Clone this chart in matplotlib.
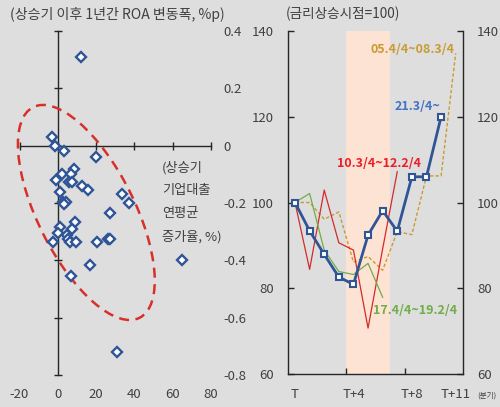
"""
Scatter of loan growth vs ROA change, and ROA paths around rate-hike cycles.
"""

import numpy as np
import matplotlib
matplotlib.use('Agg')
import matplotlib.pyplot as plt
from matplotlib.patches import Ellipse
from matplotlib import transforms

plt.rcParams['font.family'] = ['Noto Sans CJK KR', 'DejaVu Sans']
plt.rcParams['axes.unicode_minus'] = False

# left panel: 기업대출 연평균 증가율 (x) vs ROA 변동폭 (y)
loan_growth = [12.0, -3.0, -1.6, 3.3, 20.2, 8.2, 2.2, 6.8, -0.7, 6.1, 7.3, 12.7,
               15.7, 1.2, 33.6, 37.2, 2.8, 4.5, 3.3, 27.3, 9.2, 1.0, 7.3, 0.3,
               5.0, -2.6, 5.4, 6.3, 9.4, 20.4, 26.0, 27.5, 16.9, 64.6, 7.0, 30.8]
roa_change = [0.31, 0.03, 0.0, -0.02, -0.04, -0.08, -0.10, -0.10, -0.12, -0.125,
              -0.125, -0.14, -0.155, -0.16, -0.17, -0.20, -0.195, -0.195, -0.205,
              -0.235, -0.265, -0.285, -0.29, -0.305, -0.31, -0.335, -0.325,
              -0.335, -0.335, -0.335, -0.325, -0.325, -0.415, -0.40, -0.455, -0.72]

scatter_xticks = [-20, 0, 20, 40, 60, 80]
scatter_yticks = [0.4, 0.2, 0, -0.2, -0.4, -0.6, -0.8]
scatter_ylabels = ['0.4', '0.2', '0', '-0.2', '-0.4', '-0.6', '-0.8']

# right panel: index (rate hike start = 100) by quarter
series_0508 = [100, 100, 96.1, 97.8, 86.1, 87.4, 84.2, 93.2, 92.5, 106.2, 106.2, 134.8]
series_1012 = [100, 84.4, 102.9, 90.6, 88.9, 70.7, 89.2, 107.2]
series_1719 = [100, 102.1, 88.9, 83.9, 83.2, 85.8, 77.9]
series_21 = [100, 93.4, 87.9, 82.6, 80.9, 92.4, 98.1, 93.3, 106.0, 106.0, 120.0]

quarter_ticks = [0, 4, 8, 11]
quarter_labels = ['T', 'T+4', 'T+8', 'T+11']
index_ticks = [60, 80, 100, 120, 140]

BG = '#dedede'
TXT = '#404040'
AXC = '#262626'

fig = plt.figure(figsize=(5.0, 4.07), dpi=100, facecolor=BG)

# ---------------- left panel ----------------
ax = fig.add_axes([0.039, 0.0786, 0.383, 0.8452], facecolor=BG)
ax.set_xlim(-20, 80)
ax.set_ylim(-0.8, 0.4)
for side in ['top', 'right']:
    ax.spines[side].set_visible(False)
ax.spines['left'].set_position(('data', 0))
ax.spines['bottom'].set_position(('data', 0))
for side in ['left', 'bottom']:
    ax.spines[side].set_color(AXC)
    ax.spines[side].set_linewidth(1.0)
ax.set_xticks(scatter_xticks)
ax.set_yticks(scatter_yticks)
ax.tick_params(direction='inout', length=6, width=1.0, color=AXC,
               labelleft=False, labelbottom=False)

sec_x = ax.secondary_xaxis('bottom')
sec_x.set_xticks(scatter_xticks)
sec_x.spines['bottom'].set_visible(False)
sec_x.tick_params(length=0, pad=9, labelsize=9.5, labelcolor=TXT)

sec_y = ax.secondary_yaxis('right')
sec_y.set_yticks(scatter_yticks, scatter_ylabels)
sec_y.spines['right'].set_visible(False)
sec_y.tick_params(length=0, pad=9, labelsize=9.5, labelcolor=TXT)

ax.plot(loan_growth, roa_change, linestyle='none', marker='D', markersize=4.6,
        markerfacecolor='white', markeredgecolor='#2f5597', markeredgewidth=1.7,
        zorder=4, clip_on=False)

# dashed ellipse around the main cluster (size in inches, centre in data)
ell = Ellipse((0, 0), 2.36, 0.964, angle=-63.2, fill=False,
              edgecolor='#d7302a', linewidth=1.8, linestyle=(0, (4, 2.6)),
              transform=fig.dpi_scale_trans
              + transforms.ScaledTranslation(14.9, -0.233, ax.transData),
              clip_on=False, zorder=3)
ax.add_patch(ell)

ax.text(54.5, -0.198, '(상승기\n기업대출\n연평균\n증가율, %)', ha='left', va='center',
        fontsize=9.5, color=TXT, linespacing=1.95)
fig.text(0.02, 0.9656, '(상승기 이후 1년간 ROA 변동폭, %p)', ha='left', va='center',
         fontsize=10.1, color=TXT)

# ---------------- right panel ----------------
ax2 = fig.add_axes([0.5754, 0.0811, 0.3506, 0.8427], facecolor=BG)
ax2.set_xlim(-0.5, 11.5)
ax2.set_ylim(60, 140)
ax2.spines['top'].set_visible(False)
for side in ['left', 'right', 'bottom']:
    ax2.spines[side].set_color(AXC)
    ax2.spines[side].set_linewidth(1.0)

ax2.axvspan(3.5, 6.5, color='#fde3d4', zorder=0, linewidth=0)

ax2.plot(np.arange(len(series_0508)), series_0508, color='#c89b34', linewidth=1.0,
         linestyle=(0, (2.5, 1.5)), zorder=2)
ax2.plot(np.arange(len(series_1012)), series_1012, color='#d42a2a', linewidth=0.9, zorder=2)
ax2.plot(np.arange(len(series_1719)), series_1719, color='#70ad47', linewidth=0.9, zorder=2)
ax2.plot(np.arange(len(series_21)), series_21, color='#2f5597', linewidth=2.0,
         marker='s', markersize=5, markerfacecolor='white', markeredgecolor='#2f5597',
         markeredgewidth=1.5, zorder=3)

ax2.set_yticks(index_ticks)
ax2.tick_params(axis='y', direction='in', length=4, width=1.0, color=AXC,
                left=True, right=True, labelleft=True, labelright=True,
                labelsize=9.5, labelcolor=TXT, pad=10)
ax2.set_xticks(quarter_ticks, quarter_labels)
ax2.set_xticks([3.5, 7.5], minor=True)
ax2.tick_params(axis='x', which='major', length=0, pad=10, labelsize=9.5, labelcolor=TXT)
ax2.tick_params(axis='x', which='minor', direction='in', length=4, width=1.0, color=AXC)

ax2.text(10.93, 135.8, '05.4/4~08.3/4', color='#c89b34', fontsize=9, fontweight='bold',
         ha='right', va='center')
ax2.text(9.96, 122.3, '21.3/4~', color='#4472c4', fontsize=9, fontweight='bold',
         ha='right', va='center')
ax2.text(8.62, 109.2, '10.3/4~12.2/4', color='#ee1c25', fontsize=9, fontweight='bold',
         ha='right', va='center')
ax2.text(5.37, 74.9, '17.4/4~19.2/4', color='#70ad47', fontsize=9, fontweight='bold',
         ha='left', va='center')

fig.text(0.572, 0.9656, '(금리상승시점=100)', ha='left', va='center', fontsize=9.8, color=TXT)
fig.text(0.973, 0.029, '(분기)', ha='center', va='center', fontsize=5.5, color=TXT)

fig.savefig('out.png', dpi=100, facecolor=BG)
